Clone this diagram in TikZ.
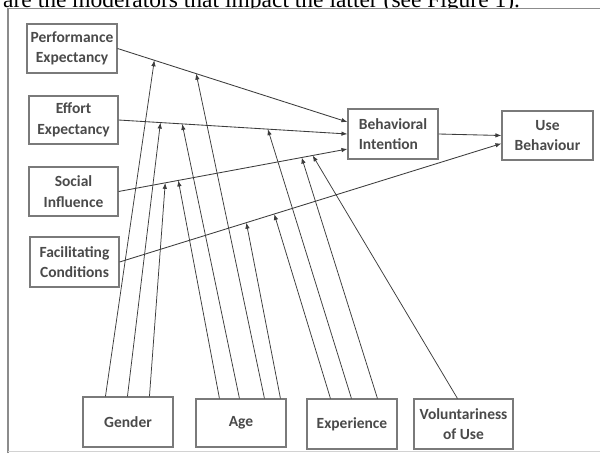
\documentclass[tikz,border=0pt]{standalone}
\usepackage{fontspec}
\setmainfont{Carlito}
\newfontfamily\serifcap{Liberation Serif}
\usetikzlibrary{arrows.meta}
\definecolor{txtgray}{HTML}{4A4A4A}
\definecolor{linegray}{HTML}{3C3C3C}
\definecolor{boxgray}{HTML}{7A7A7A}
\tikzset{
  box/.style={draw=boxgray, line width=1.1pt, rectangle, inner sep=0pt,
    font=\fontsize{15.5}{20.5}\selectfont\bfseries, text=txtgray, align=center},
  conn/.style={draw=linegray, line width=0.85pt, -{Latex[length=6pt,width=4.5pt]}},
  moder/.style={draw=linegray, line width=0.75pt, -{Latex[length=6pt,width=4.5pt]}}
}
\begin{document}
\begin{tikzpicture}[x=1pt,y=-1pt]
\useasboundingbox (0,0) rectangle (600,453);
\fill[white] (0,0) rectangle (600,453);
% caption line cut at top
\begin{scope}
\clip (0,0) rectangle (600,8);
\node[anchor=base west, inner sep=0pt, font=\serifcap\fontsize{23.5}{26}\selectfont] (cap) at (3,7) {are the moderators that impact the latter (see Figure 1).};
\end{scope}
% frame
\draw[draw=gray!90, line width=1.3pt] (8,453) -- (8,8.5) -- (600,8.5);
\draw[draw=gray!35, line width=0.8pt] (8,451) -- (600,451);
% boxes
\node[box, minimum width=90pt, minimum height=49pt] (pe) at (72,48.5) {Performance\\Expectancy};
\node[box, minimum width=89pt, minimum height=48pt] (ee) at (73.5,120) {Effort\\Expectancy};
\node[box, minimum width=89pt, minimum height=49pt] (si) at (73.5,191.5) {Social\\Influence};
\node[box, minimum width=89pt, minimum height=50pt] (fc) at (74.5,262) {Facilitating\\Conditions};
\node[box, minimum width=90pt, minimum height=50pt, align=left] (bi) at (393,134) {Behavioral\\Intention};
\node[box, minimum width=91pt, minimum height=49pt] (ub) at (547.5,135.5) {Use\\Behaviour};
\node[box, minimum width=90pt, minimum height=50pt] (ge) at (128,422) {Gender};
\node[box, minimum width=90pt, minimum height=48pt] (ag) at (241,423) {Age};
\node[box, minimum width=90pt, minimum height=50pt] (ex) at (352,424) {Experience};
\node[box, minimum width=99pt, minimum height=50pt] (vo) at (463.5,424) {Voluntariness\\of Use};
% main connectors with target points for moderators
\draw[conn] (pe.east) -- coordinate[pos=0.16] (pe1) coordinate[pos=0.342] (pe2) ([yshift=12pt]bi.west);
\draw[conn] (ee.east) -- coordinate[pos=0.183] (ee1) coordinate[pos=0.278] (ee2) coordinate[pos=0.652] (ee3) (bi.west);
\draw[conn] (si.east) -- coordinate[pos=0.204] (si1) coordinate[pos=0.261] (si2) coordinate[pos=0.80] (si3) coordinate[pos=0.848] (si4) ([yshift=-15pt]bi.west);
\draw[conn] (fc.east) -- coordinate[pos=0.332] (fc1) coordinate[pos=0.405] (fc2) ([yshift=-8pt]ub.west);
\draw[conn] (bi.east) -- (ub.west);
% moderators
\draw[moder] ([xshift=23pt]ge.north west) -- (pe1);
\draw[moder] ([xshift=45pt]ge.north west) -- (ee1);
\draw[moder] ([xshift=67pt]ge.north west) -- (si1);
\draw[moder] ([xshift=24pt]ag.north west) -- (si2);
\draw[moder] ([xshift=44pt]ag.north west) -- (ee2);
\draw[moder] ([xshift=69pt]ag.north west) -- (pe2);
\draw[moder] ([xshift=85pt]ag.north west) -- (fc1);
\draw[moder] ([xshift=24pt]ex.north west) -- (fc2);
\draw[moder] ([xshift=45pt]ex.north west) -- (ee3);
\draw[moder] ([xshift=71pt]ex.north west) -- (si3);
\draw[moder] ([xshift=44pt]vo.north west) -- (si4);
\end{tikzpicture}
\end{document}
